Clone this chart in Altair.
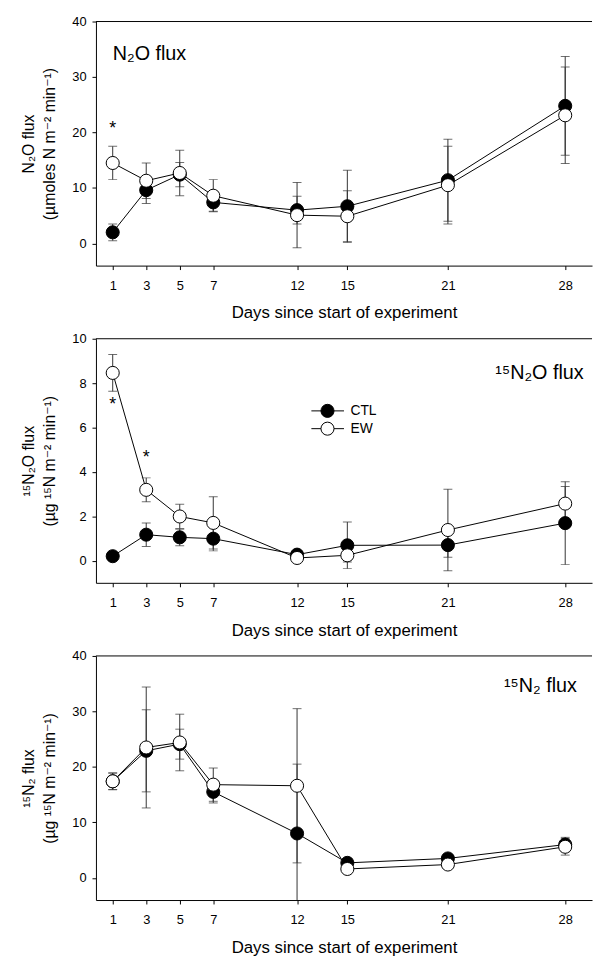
import altair as alt
import pandas as pd

# ---------------- data ----------------
days = [1, 3, 5, 7, 12, 15, 21, 28]
groups = ["CTL", "EW"]

# Panel 1: N2O flux (umoles N m-2 min-1)
n2o_ctl = [2.0, 9.6, 12.4, 7.4, 6.0, 6.7, 11.4, 24.8]
n2o_ctl_err = [1.5, 2.4, 2.2, 1.6, 2.5, 6.5, 7.4, 8.9]
n2o_ew = [14.5, 11.3, 12.7, 8.6, 5.1, 4.9, 10.5, 23.1]
n2o_ew_err = [3.0, 3.2, 4.1, 2.9, 5.9, 4.6, 7.0, 8.7]
n2o_star_days = [1]
n2o_star_vals = [21.3]

# Panel 2: 15N2O flux (ug 15N m-2 min-1)
n15n2o_ctl = [0.20, 1.17, 1.05, 0.99, 0.27, 0.69, 0.70, 1.69]
n15n2o_ctl_err = [0.05, 0.53, 0.38, 0.55, 0.05, 1.05, 0.55, 1.87]
n15n2o_ew = [8.46, 3.19, 1.99, 1.70, 0.12, 0.24, 1.38, 2.57]
n15n2o_ew_err = [0.83, 0.54, 0.55, 1.18, 0.05, 0.30, 1.84, 0.77]
n15n2o_star_days = [1, 3]
n15n2o_star_vals = [7.2, 4.8]

# Panel 3: 15N2 flux (ug 15N m-2 min-1)
n15n2_ctl = [17.4, 22.9, 24.1, 15.5, 8.0, 2.7, 3.5, 6.0]
n15n2_ctl_err = [1.5, 7.4, 2.7, 2.0, 12.5, 0.6, 0.5, 1.3]
n15n2_ew = [17.4, 23.5, 24.4, 16.8, 16.6, 1.6, 2.4, 5.6]
n15n2_ew_err = [1.5, 10.9, 5.1, 3.0, 13.9, 0.5, 0.5, 1.5]
n15n2_star_days = []
n15n2_star_vals = []

# ---------------- style ----------------
FONT = "Liberation Sans, Arial, DejaVu Sans"
W = 502
H = 247
XDOM = [0, 29.6]
ECOL = "#333333"
PT_SIZE = 175


def make_df(ctl, ctl_err, ew, ew_err):
    rows = []
    for g, vals, errs in (("CTL", ctl, ctl_err), ("EW", ew, ew_err)):
        for d, v, e in zip(days, vals, errs):
            rows.append({"day": d, "group": g, "value": v, "lo": v - e, "hi": v + e})
    return pd.DataFrame(rows)


def make_panel(ctl, ctl_err, ew, ew_err, ydom, yticks, ytitle, label, label_pos,
               label_align, star_days, star_vals, legend=False):
    df = make_df(ctl, ctl_err, ew, ew_err)
    base = alt.Chart(df)
    xenc = alt.X("day:Q", scale=alt.Scale(domain=XDOM, nice=False, zero=False),
                 axis=alt.Axis(values=days, title="Days since start of experiment",
                               format="d"))
    yscale = alt.Scale(domain=ydom, nice=False, zero=False)
    yenc = alt.Y("value:Q", scale=yscale,
                 axis=alt.Axis(values=yticks, title=ytitle, format="d"))
    fill = alt.Fill("group:N", scale=alt.Scale(domain=groups, range=["black", "white"]),
                    legend=None)

    frame = alt.Chart(pd.DataFrame({"k": [0]})).mark_rule(
        color="black", strokeWidth=1).encode(x=alt.value(0), x2=alt.value(W), y=alt.value(0))
    bars = base.mark_rule(color=ECOL, strokeWidth=1, clip=True).encode(
        x=xenc, y=alt.Y("lo:Q", scale=yscale), y2="hi:Q")
    cap_lo = base.mark_tick(orient="horizontal", size=9, thickness=1, color=ECOL,
                            clip=True).encode(x=xenc, y=alt.Y("lo:Q", scale=yscale))
    cap_hi = base.mark_tick(orient="horizontal", size=9, thickness=1, color=ECOL,
                            clip=True).encode(x=xenc, y=alt.Y("hi:Q", scale=yscale))
    lines = base.mark_line(color="black", strokeWidth=1).encode(
        x=xenc, y=yenc, detail="group:N", order="day:Q")
    pts = base.mark_point(shape="circle", filled=True, size=PT_SIZE, stroke="black",
                          strokeWidth=1, opacity=1).encode(x=xenc, y=yenc, fill=fill)
    lab = alt.Chart(pd.DataFrame({"t": [label]})).mark_text(
        align=label_align, baseline="alphabetic", fontSize=20, font=FONT, color="black"
    ).encode(x=alt.datum(label_pos[0]), y=alt.datum(label_pos[1]), text="t:N")

    layers = [frame, bars, cap_lo, cap_hi, lines, pts, lab]
    if star_days:
        sdf = pd.DataFrame({"day": star_days, "value": star_vals, "t": ["*"] * len(star_days)})
        stars = alt.Chart(sdf).mark_text(fontSize=18, baseline="alphabetic", dy=9,
                                         font=FONT, color="black").encode(
            x=alt.X("day:Q", scale=alt.Scale(domain=XDOM, nice=False, zero=False)),
            y=alt.Y("value:Q", scale=yscale), text="t:N")
        layers.append(stars)
    if legend:
        rows_px = [73, 91]
        fills = ["black", "white"]
        one = pd.DataFrame({"k": [0]})
        for g, fc, ry in zip(groups, fills, rows_px):
            layers.append(alt.Chart(one).mark_rule(color="black", strokeWidth=1).encode(
                x=alt.value(218), x2=alt.value(251), y=alt.value(ry)))
            layers.append(alt.Chart(one).mark_point(
                shape="circle", filled=True, size=PT_SIZE, fill=fc, stroke="black",
                strokeWidth=1, opacity=1).encode(x=alt.value(234.3), y=alt.value(ry)))
            layers.append(alt.Chart(pd.DataFrame({"t": [g]})).mark_text(
                align="left", baseline="middle", fontSize=14, font=FONT, color="black"
            ).encode(x=alt.value(257.5), y=alt.value(ry), text="t:N"))
    return alt.layer(*layers).properties(width=W, height=H)


p1 = make_panel(n2o_ctl, n2o_ctl_err, n2o_ew, n2o_ew_err, [-4, 40], [0, 10, 20, 30, 40],
                ["N\u2082O flux", "(\u00b5moles N m\u207b\u00b2 min\u207b\u00b9)"],
                "N\u2082O flux", (1.0, 33.1), "left", n2o_star_days, n2o_star_vals)
p2 = make_panel(n15n2o_ctl, n15n2o_ctl_err, n15n2o_ew, n15n2o_ew_err, [-1, 10],
                [0, 2, 4, 6, 8, 10],
                ["\u00b9\u2075N\u2082O flux", "(\u00b5g \u00b9\u2075N m\u207b\u00b2 min\u207b\u00b9)"],
                "\u00b9\u2075N\u2082O flux", (29.1, 8.2), "right",
                n15n2o_star_days, n15n2o_star_vals, legend=True)
p3 = make_panel(n15n2_ctl, n15n2_ctl_err, n15n2_ew, n15n2_ew_err, [-4, 40],
                [0, 10, 20, 30, 40],
                ["\u00b9\u2075N\u2082 flux", "(\u00b5g \u00b9\u2075N m\u207b\u00b2 min\u207b\u00b9)"],
                "\u00b9\u2075N\u2082 flux", (28.7, 33.5), "right",
                n15n2_star_days, n15n2_star_vals)

chart = alt.vconcat(p1, p2, p3, spacing=12).properties(
    padding={"left": 12, "right": 1, "top": 2, "bottom": 0}
).configure(font=FONT).configure_view(stroke=None).configure_axis(
    grid=False, domainColor="black", domainWidth=1, tickColor="black", tickWidth=1,
    tickSize=4, labelColor="black", labelFont=FONT, labelFontSize=13,
    titleColor="black", titleFont=FONT, titleFontWeight="normal",
).configure_axisX(
    labelPadding=10, titleFontSize=17, titlePadding=13
).configure_axisY(
    labelPadding=6, titleFontSize=16, titlePadding=14, titleLineHeight=22
)

chart.save("out.html", embed_options={"renderer": "svg", "actions": False})
